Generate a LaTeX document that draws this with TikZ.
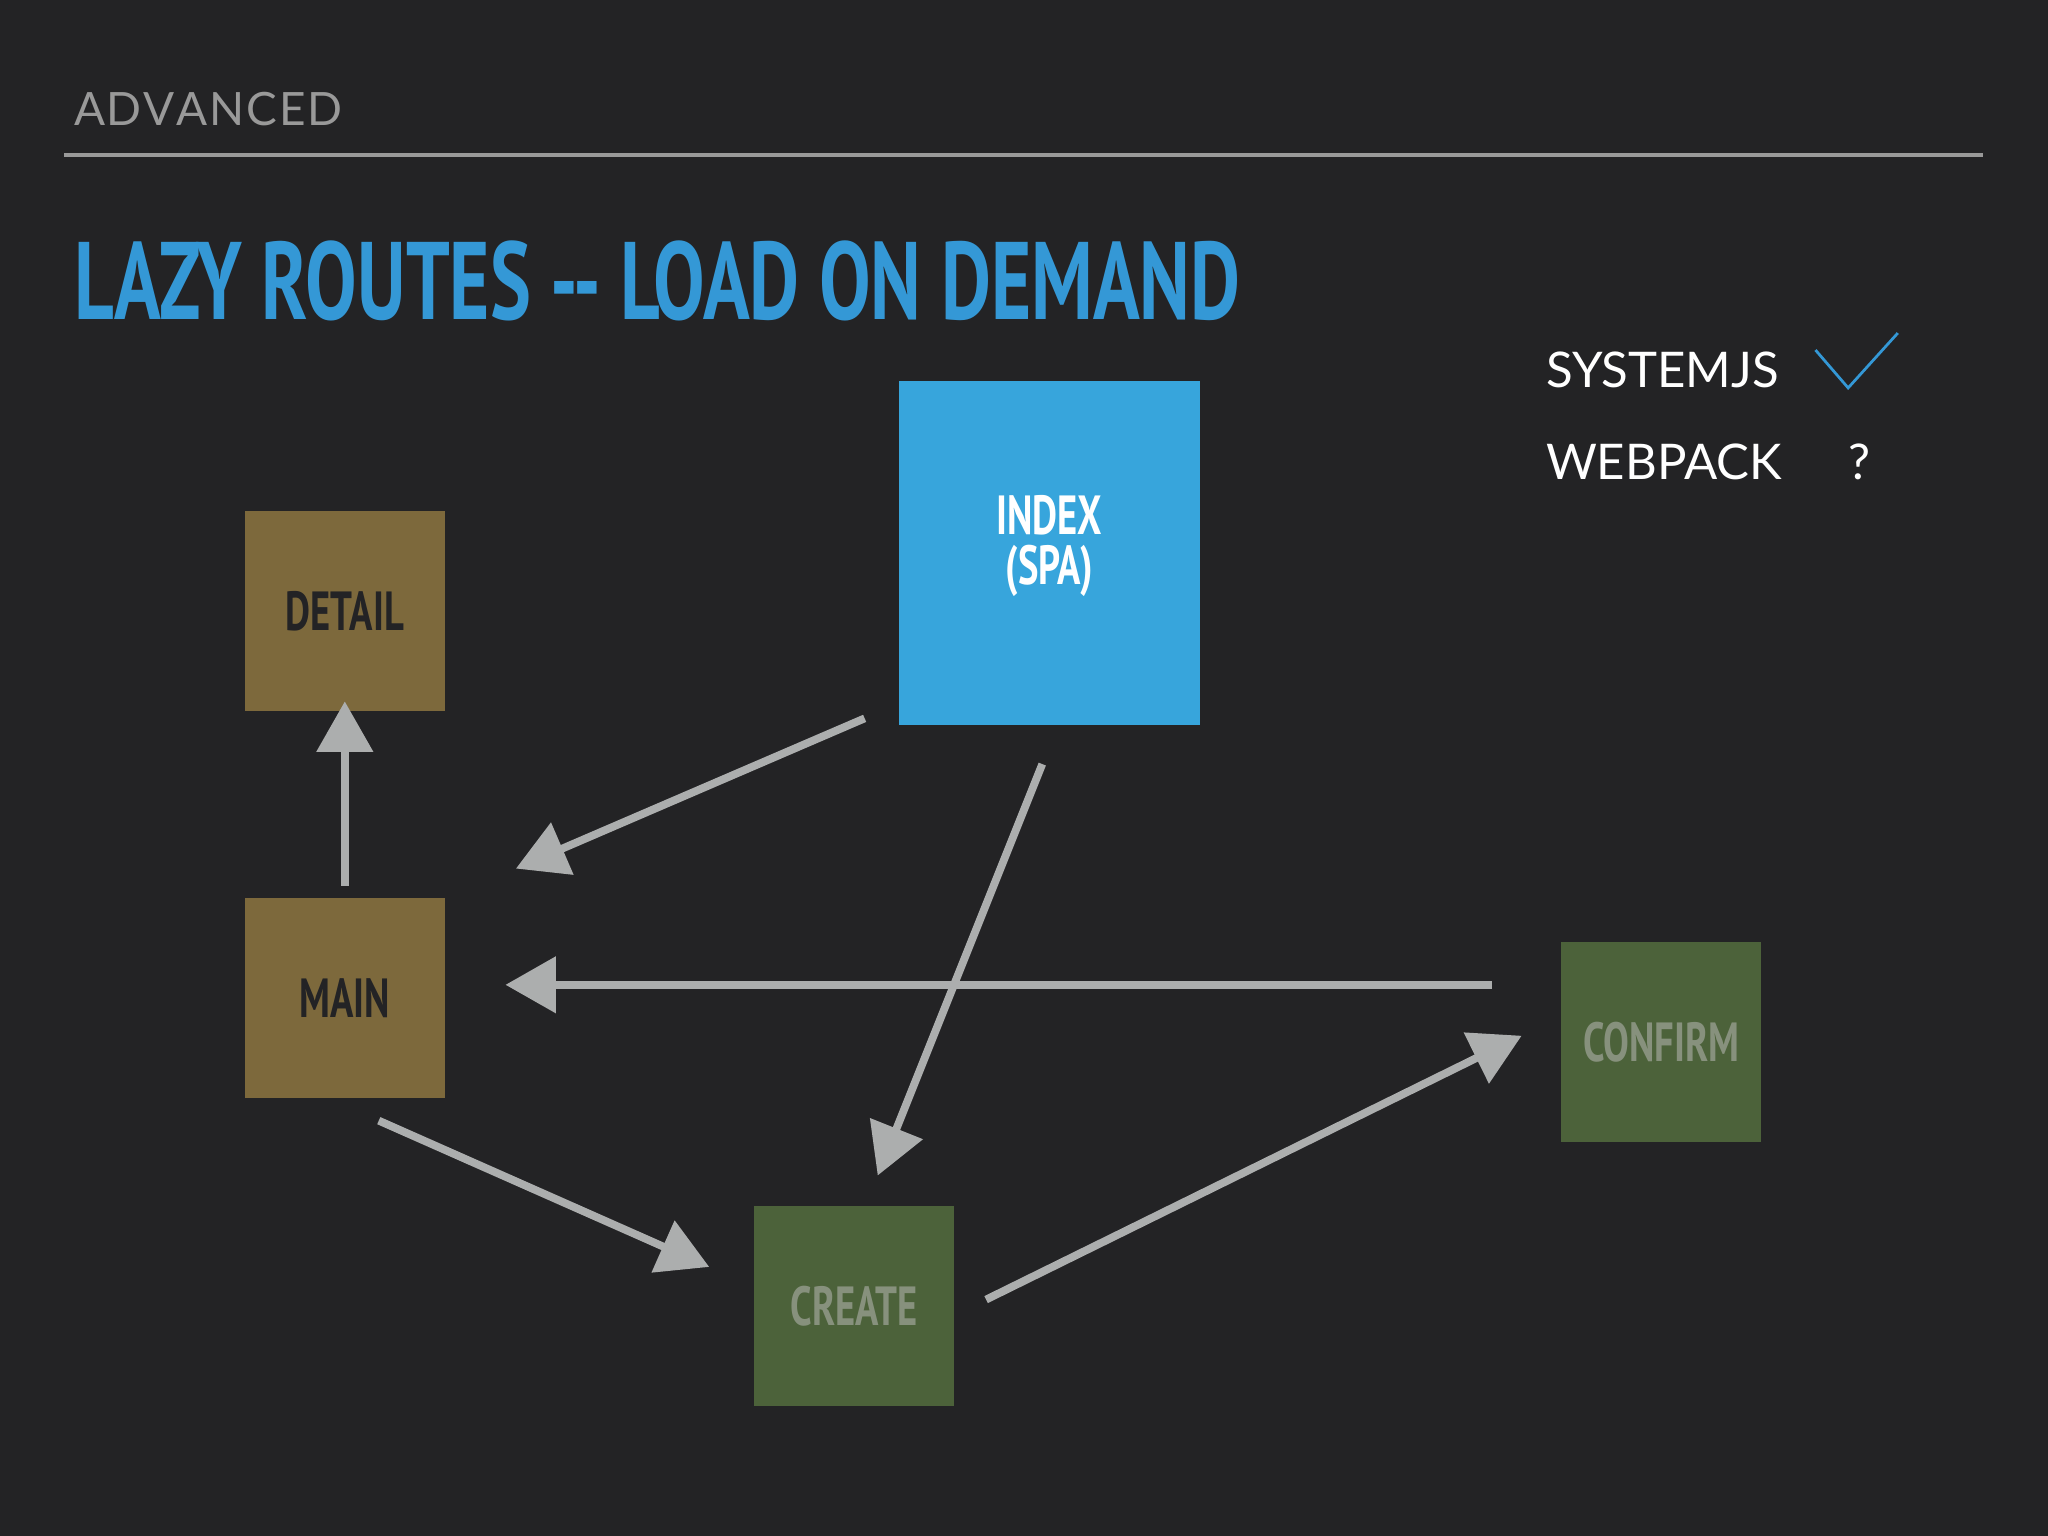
\documentclass[tikz,border=0pt]{standalone}
\usepackage{fontspec}
\setmainfont{PT Sans}
\newfontfamily\cond{PT Sans}[FakeStretch=0.7]
\newfontfamily\plain{Lato}
\usetikzlibrary{arrows.meta}
\definecolor{bg}{RGB}{35,35,37}
\definecolor{ttl}{RGB}{52,152,214}
\definecolor{idx}{RGB}{55,165,220}
\definecolor{brn}{RGB}{125,105,60}
\definecolor{grn}{RGB}{76,98,58}
\definecolor{arr}{RGB}{172,174,174}
\definecolor{gtx}{RGB}{135,145,125}
\begin{document}
\begin{tikzpicture}[x=0.01cm,y=-0.01cm,
  box/.style={draw=none,inner sep=0,font=\cond\bfseries\fontsize{12}{13}\selectfont,align=center},
  sq/.style={box,minimum width=1.53cm,minimum height=1.53cm},
  conn/.style={draw=arr,line width=1.7pt,-{Triangle[width=12pt,length=11pt]}}]
\useasboundingbox[fill=bg] (0,0) rectangle (1568,1176);
\node[anchor=base west,text=gray!80,font=\plain\fontsize{10}{12}\selectfont,inner sep=0] (adv) at (56,96) {A\kern0.4pt D\kern0.4pt V\kern0.4pt A\kern0.4pt N\kern0.4pt C\kern0.4pt E\kern0.4pt D};
\draw[gray!80,line width=0.9pt] (49,119) coordinate (l1) -- (1518,119) coordinate (l2);
\node[anchor=base west,text=ttl,font=\cond\bfseries\fontsize{24}{26}\selectfont,inner sep=0] (title) at (56,245) {LAZY ROUTES -- LOAD ON DEMAND};
\node[anchor=base west,text=white,font=\plain\fontsize{10.7}{12}\selectfont,inner sep=0] (sys) at (1183,297) {SYSTEMJS};
\node[anchor=base west,text=white,font=\plain\fontsize{10.7}{12}\selectfont,inner sep=0] (web) at (1183,367) {WEBPACK};
\node[anchor=base,text=white,font=\plain\fontsize{10.7}{12}\selectfont,inner sep=0] (q) at (1424,367) {?};
\coordinate (c1) at (1390,268); \coordinate (c2) at (1415,297); \coordinate (c3) at (1453,255);
\draw[ttl,line width=0.6pt] (c1) -- (c2) -- (c3);
\node[sq,fill=brn,text=bg] (detail) at (264,468) {DETAIL};
\node[sq,fill=brn,text=bg] (main) at (264,764) {MAIN};
\node[box,fill=idx,minimum width=2.30cm,minimum height=2.63cm] (index) at (803.5,423.5) {};
\node[box,text=white] (indext) at (803.5,418) {INDEX\\[-2pt](SPA)};
\node[sq,fill=grn,text=gtx] (create) at (654,1000) {CREATE};
\node[sq,fill=grn,text=gtx] (confirm) at (1272,798) {CONFIRM};
\coordinate (a1s) at (662,550); \coordinate (a1e) at (395,665);
\coordinate (a2s) at (798,585); \coordinate (a2e) at (672,900);
\coordinate (a3s) at (264,678); \coordinate (a3e) at (264,537);
\coordinate (a4s) at (1142,754); \coordinate (a4e) at (387,754);
\coordinate (a5s) at (290,858); \coordinate (a5e) at (543,970);
\coordinate (a6s) at (755,995); \coordinate (a6e) at (1165,793);
\draw[conn] (a1s) -- (a1e);
\draw[conn] (a2s) -- (a2e);
\draw[conn] (a3s) -- (a3e);
\draw[conn] (a4s) -- (a4e);
\draw[conn] (a5s) -- (a5e);
\draw[conn] (a6s) -- (a6e);
\end{tikzpicture}
\end{document}
